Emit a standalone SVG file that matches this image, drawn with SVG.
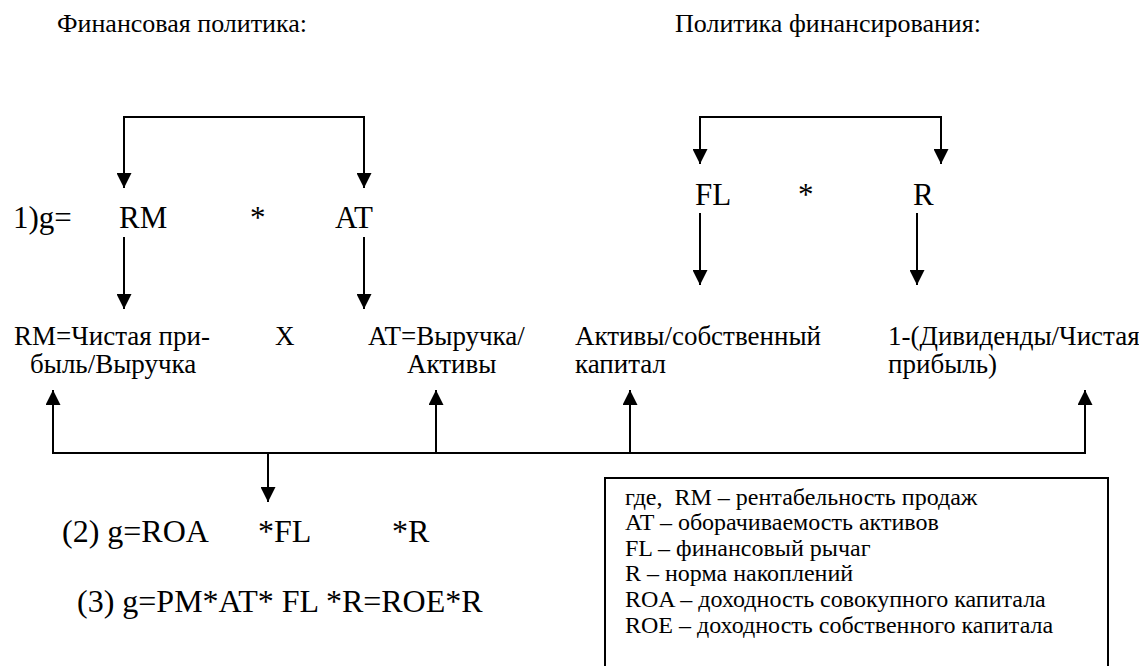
<svg xmlns="http://www.w3.org/2000/svg" width="1139" height="666" viewBox="0 0 1139 666" font-family="'Liberation Serif', Tinos, 'Times New Roman', 'DejaVu Serif', serif">
<style>
text{font-family:'Liberation Serif',Tinos,'Times New Roman','DejaVu Serif',serif;fill:#000}
.h{font-size:26px}
.f{font-size:31px}
.m{font-size:27px}
.g{font-size:32px}
.l{font-size:24px}
.c{fill:none;stroke:#000;stroke-width:2}
</style>
<defs>
<marker id="ah" viewBox="0 0 15 15" refX="15" refY="7.5" markerWidth="15" markerHeight="15" markerUnits="userSpaceOnUse" orient="auto-start-reverse">
<path d="M0,0 L15,7.5 L0,15 z" fill="#000"/>
</marker>
</defs>
<rect width="1139" height="666" fill="#fff"/>
<g id="headings">
<text class="h" x="57" y="32">Финансовая политика:</text>
<text class="h" x="675" y="32">Политика финансирования:</text>
</g>
<g id="connectors">
<path class="c" d="M124,188 V117 H364 V188" marker-start="url(#ah)" marker-end="url(#ah)"/>
<path class="c" d="M124,237 V309" marker-end="url(#ah)"/>
<path class="c" d="M364,237 V309" marker-end="url(#ah)"/>
<path class="c" d="M700,164 V117 H941 V164" marker-start="url(#ah)" marker-end="url(#ah)"/>
<path class="c" d="M700,213 V285" marker-end="url(#ah)"/>
<path class="c" d="M917,213 V285" marker-end="url(#ah)"/>
<path class="c" d="M53,390 V453 H1085 V390" marker-start="url(#ah)" marker-end="url(#ah)"/>
<path class="c" d="M436,453 V390" marker-end="url(#ah)"/>
<path class="c" d="M630,453 V390" marker-end="url(#ah)"/>
<path class="c" d="M268,453 V502" marker-end="url(#ah)"/>
</g>
<g id="formula1">
<text class="f" x="13" y="228">1)g=</text>
<text class="f" x="119" y="228">RM</text>
<text class="f" x="250" y="228">*</text>
<text class="f" x="335" y="228">AT</text>
</g>
<g id="formula-fin">
<text class="f" x="695" y="205">FL</text>
<text class="f" x="798" y="205">*</text>
<text class="f" x="913" y="205">R</text>
</g>
<g id="node-rm">
<text class="m" x="14" y="345">RM=Чистая при-</text>
<text class="m" x="30" y="373">быль/Выручка</text>
</g>
<g id="node-x">
<text class="m" x="275" y="345">X</text>
</g>
<g id="node-at">
<text class="m" x="368" y="345">AT=Выручка/</text>
<text class="m" x="407" y="373">Активы</text>
</g>
<g id="node-fl">
<text class="m" x="575" y="345">Активы/собственный</text>
<text class="m" x="575" y="373">капитал</text>
</g>
<g id="node-r">
<text class="m" x="888" y="345">1-(Дивиденды/Чистая</text>
<text class="m" x="888" y="373">прибыль)</text>
</g>
<g id="formula2">
<text class="g" x="62" y="542">(2) g=ROA</text>
<text class="g" x="258" y="542">*FL</text>
<text class="g" x="392" y="542">*R</text>
</g>
<g id="formula3">
<text class="g" x="77" y="612">(3) g=PM*AT* FL *R=ROE*R</text>
</g>
<g id="legend">
<rect x="605" y="478" width="503" height="192" fill="none" stroke="#000" stroke-width="2"/>
<text class="l" x="625" y="505">где,&#160; RM – рентабельность продаж</text>
<text class="l" x="625" y="530">AT – оборачиваемость активов</text>
<text class="l" x="625" y="556">FL – финансовый рычаг</text>
<text class="l" x="625" y="581">R – норма накоплений</text>
<text class="l" x="625" y="607">ROA – доходность совокупного капитала</text>
<text class="l" x="625" y="633">ROE – доходность собственного капитала</text>
</g>
</svg>
